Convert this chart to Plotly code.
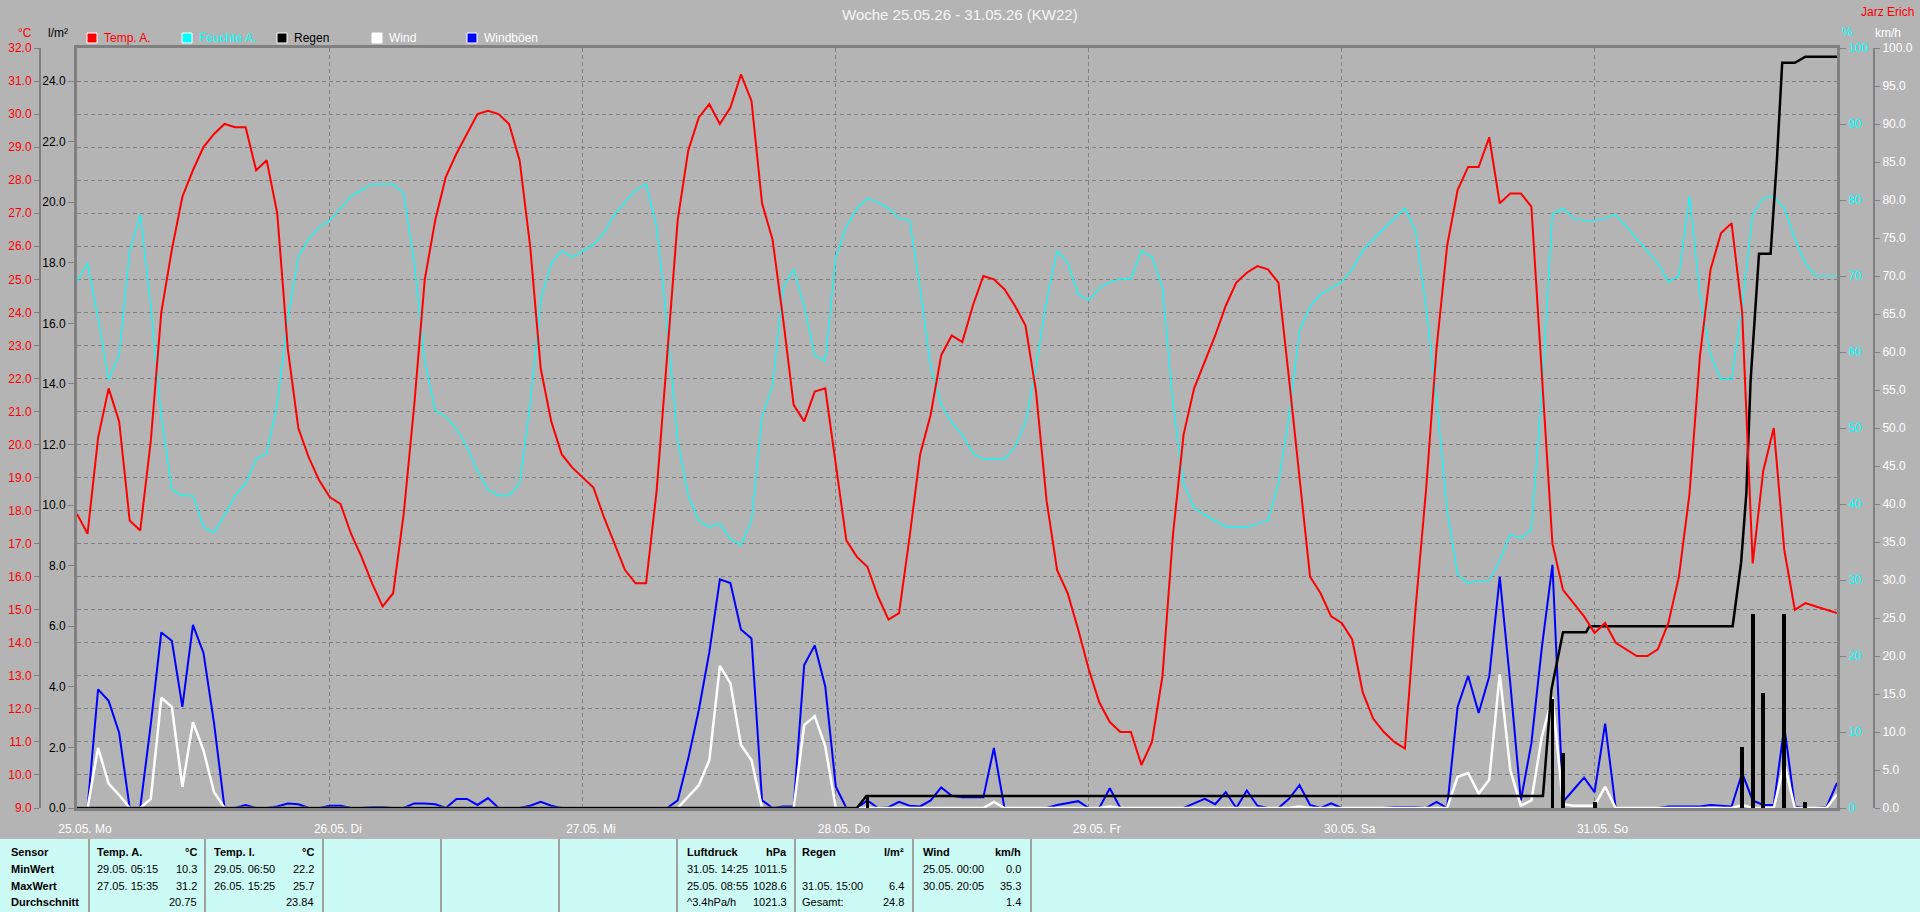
import pandas as pd
import plotly.graph_objects as go

FIG_W, FIG_H = 1920, 912
PLOT_LEFT, PLOT_RIGHT, PLOT_TOP, PLOT_BOTTOM = 77, 1837, 48, 808
FONT = "Liberation Sans, Arial, sans-serif"
GRID = "#808080"
BG = "#B4B4B4"
TABLE_BG = "#CCFAF5"

START = pd.Timestamp("2026-05-25 00:00")

# ---- data (hourly values) ----
day_labels = ["25.05. Mo", "26.05. Di", "27.05. Mi", "28.05. Do", "29.05. Fr", "30.05. Sa", "31.05. So"]

# Temp. A. in degC
temp_25 = [17.9, 17.3, 20.2, 21.7, 20.7, 17.7, 17.4, 20.1, 24.0, 25.9, 27.5, 28.3, 29.0, 29.4, 29.7, 29.6, 29.6, 28.3, 28.6, 27.0, 22.9, 20.5, 19.6, 18.9]
temp_26 = [18.4, 18.2, 17.3, 16.6, 15.8, 15.1, 15.5, 17.9, 21.2, 25.0, 26.8, 28.1, 28.8, 29.4, 30.0, 30.1, 30.0, 29.7, 28.6, 26.0, 22.3, 20.7, 19.7, 19.3]
temp_27 = [19.0, 18.7, 17.8, 17.0, 16.2, 15.8, 15.8, 18.6, 22.7, 26.8, 28.9, 29.9, 30.3, 29.7, 30.2, 31.2, 30.4, 27.3, 26.2, 23.8, 21.2, 20.7, 21.6, 21.7]
temp_28 = [19.4, 17.1, 16.6, 16.3, 15.4, 14.7, 14.9, 17.2, 19.7, 20.9, 22.7, 23.3, 23.1, 24.2, 25.1, 25.0, 24.7, 24.2, 23.6, 21.6, 18.3, 16.2, 15.5, 14.4]
temp_29 = [13.2, 12.2, 11.6, 11.3, 11.3, 10.3, 11.0, 13.0, 17.3, 20.3, 21.7, 22.5, 23.3, 24.2, 24.9, 25.2, 25.4, 25.3, 24.9, 22.0, 19.0, 16.0, 15.5, 14.8]
temp_30 = [14.6, 14.1, 12.5, 11.7, 11.3, 11.0, 10.8, 15.0, 18.6, 22.9, 26.0, 27.7, 28.4, 28.4, 29.3, 27.3, 27.6, 27.6, 27.2, 22.0, 17.0, 15.6, 15.2, 14.8]
temp_31 = [14.3, 14.6, 14.0, 13.8, 13.6, 13.6, 13.8, 14.6, 16.0, 18.5, 22.7, 25.3, 26.4, 26.7, 24.0, 16.4, 19.2, 20.5, 16.8, 15.0, 15.2, 15.1, 15.0, 14.9]

# Feuchte A. in %
hum_25 = [69.2, 71.7, 64.4, 56.4, 59.6, 73.3, 78.1, 66.0, 51.5, 41.9, 41.1, 41.1, 37.0, 36.2, 38.6, 41.1, 42.7, 45.9, 46.7, 53.1, 64.4, 72.5, 74.9, 76.5]
hum_26 = [77.3, 78.9, 80.5, 81.3, 82.1, 82.1, 82.1, 80.8, 71.7, 58.8, 52.3, 51.5, 49.9, 47.5, 44.3, 41.9, 41.1, 41.1, 42.7, 53.1, 66.8, 71.7, 73.3, 72.5]
hum_27 = [73.3, 74.1, 75.7, 78.1, 79.7, 81.3, 82.1, 76.5, 63.6, 48.3, 41.1, 37.8, 37.0, 37.4, 35.4, 34.6, 37.8, 51.5, 55.6, 68.4, 70.9, 66.0, 59.6, 58.8]
hum_28 = [72.5, 76.5, 78.9, 80.2, 79.7, 78.9, 77.6, 77.3, 68.4, 58.0, 53.1, 50.7, 49.1, 46.7, 45.9, 45.9, 45.9, 47.5, 50.7, 58.0, 66.8, 73.3, 71.7, 67.6]
hum_29 = [66.8, 68.4, 69.2, 69.6, 69.6, 73.3, 72.5, 68.4, 53.1, 42.7, 39.5, 38.6, 37.8, 37.0, 37.0, 37.0, 37.4, 37.8, 42.7, 51.5, 62.8, 66.0, 67.6, 68.4]
hum_30 = [69.2, 70.9, 73.3, 74.9, 76.2, 77.6, 78.9, 76.0, 66.0, 54.0, 39.2, 30.7, 29.6, 29.9, 29.9, 32.6, 36.0, 35.5, 36.6, 55.0, 78.1, 78.9, 77.6, 77.3]
hum_31 = [77.3, 77.6, 78.1, 76.5, 74.9, 73.3, 71.7, 69.2, 70.0, 80.5, 67.6, 59.6, 56.4, 56.4, 66.0, 78.1, 80.2, 80.5, 78.9, 74.9, 71.7, 70.0, 70.0, 70.0]

# Wind in km/h
wind_25 = [0, 0, 7.9, 3.2, 1.7, 0, 0, 1.2, 14.5, 13.3, 2.8, 11.3, 7.6, 2.1, 0, 0, 0, 0, 0, 0, 0, 0, 0, 0]
wind_26 = [0, 0, 0, 0, 0, 0, 0, 0, 0, 0, 0, 0, 0, 0, 0, 0, 0, 0, 0, 0, 0, 0, 0, 0]
wind_27 = [0, 0, 0, 0, 0, 0, 0, 0, 0, 0, 1.5, 3.0, 6.3, 18.7, 16.4, 8.3, 6.3, 0, 0, 0, 0, 10.9, 12.1, 8.1]
wind_28 = [0, 0, 0, 0, 0, 0, 0, 0, 0, 0, 0, 0, 0, 0, 0, 0.8, 0, 0, 0, 0, 0, 0, 0, 0]
wind_29 = [0, 0, 0.2, 0, 0, 0, 0, 0, 0, 0, 0, 0, 0, 0, 0, 0, 0, 0, 0, 0, 0.2, 0, 0, 0]
wind_30 = [0, 0, 0, 0, 0, 0, 0, 0, 0, 0, 0, 4.1, 4.6, 1.9, 3.7, 17.6, 5.0, 0.3, 1.0, 9.4, 14.6, 0.5, 0.3, 0.3]
wind_31 = [0.3, 2.8, 0, 0, 0, 0, 0, 0, 0, 0, 0, 0, 0, 0, 0.4, 0, 0, 0, 5.9, 0, 0, 0, 0, 1.8]

# Windboeen in km/h
gust_25 = [0, 0, 15.6, 14.1, 9.9, 0, 0, 11.0, 23.1, 22.0, 13.3, 24.1, 20.4, 11.2, 0, 0, 0.4, 0, 0, 0.2, 0.6, 0.5, 0, 0]
gust_26 = [0.3, 0.3, 0, 0, 0.1, 0.1, 0, 0, 0.6, 0.6, 0.5, 0, 1.2, 1.2, 0.4, 1.3, 0, 0, 0, 0.3, 0.8, 0.3, 0, 0]
gust_27 = [0, 0, 0, 0, 0, 0, 0, 0, 0, 1.0, 6.5, 12.9, 20.5, 30.1, 29.6, 23.5, 22.3, 1.0, 0, 0.2, 0.2, 18.8, 21.4, 16.0]
gust_28 = [2.8, 0, 0, 1.0, 0, 0.1, 0.8, 0.3, 0.2, 1.0, 2.7, 1.6, 1.4, 1.4, 1.4, 7.9, 0, 0, 0, 0, 0, 0.4, 0.7, 0.9]
gust_29 = [0, 0, 2.6, 0, 0, 0, 0, 0, 0, 0, 0.6, 1.2, 0.5, 2.1, 0, 2.3, 0.3, 0, 0, 1.2, 3.0, 0.4, 0, 0.6]
gust_30 = [0, 0, 0, 0, 0, 0.1, 0.1, 0.1, 0, 0.8, 0, 13.3, 17.4, 12.5, 17.3, 30.4, 16.4, 1.0, 8.5, 21.2, 32.0, 0.8, 2.4, 4.0]
gust_31 = [2.1, 11.1, 0, 0, 0, 0, 0, 0.2, 0.2, 0.2, 0.2, 0.4, 0.3, 0.2, 4.6, 1.0, 0.4, 0.4, 10.7, 0.2, 0, 0, 0.1, 3.3]

# Regen: cumulative sum (hours since 25.05. 00:00) and hourly amounts, l/m2
rain_sum_hours = [0, 74.0, 74.9, 139.1, 139.9, 140.4, 141.0, 143.2, 143.5, 157.1, 157.9, 158.4, 158.8, 159.6, 160.7, 161.3, 161.8, 163.0, 164.0, 167.0]
rain_sum = [0, 0, 0.4, 0.4, 3.9, 4.8, 5.8, 5.8, 6.0, 6.0, 8.1, 10.4, 14.1, 18.3, 18.3, 21.4, 24.6, 24.6, 24.8, 24.8]
rain_bar_hours = [75, 140, 141, 144, 158, 159, 160, 162, 164]
rain_bar = [0.4, 3.6, 1.8, 0.2, 2.0, 6.4, 3.8, 6.4, 0.2]

# statistics table
stat_rows = ["Sensor", "MinWert", "MaxWert", "Durchschnitt"]
stat_temp_a = [["Temp. A.", "°C"], ["29.05. 05:15", "10.3"], ["27.05. 15:35", "31.2"], ["", "20.75"]]
stat_temp_i = [["Temp. I.", "°C"], ["29.05. 06:50", "22.2"], ["26.05. 15:25", "25.7"], ["", "23.84"]]
stat_luft = [["Luftdruck", "hPa"], ["31.05. 14:25", "1011.5"], ["25.05. 08:55", "1028.6"], ["^3.4hPa/h", "1021.3"]]
stat_regen = [["Regen", "l/m²"], ["", ""], ["31.05. 15:00", "6.4"], ["Gesamt:", "24.8"]]
stat_wind = [["Wind", "km/h"], ["25.05. 00:00", "0.0"], ["30.05. 20:05", "35.3"], ["", "1.4"]]


def px_x(px):
    return px / FIG_W


def px_y(py):
    return (PLOT_BOTTOM - py) / (PLOT_BOTTOM - PLOT_TOP)


hours = pd.date_range(START, periods=168, freq="h")
temp_a = temp_25 + temp_26 + temp_27 + temp_28 + temp_29 + temp_30 + temp_31
humidity = hum_25 + hum_26 + hum_27 + hum_28 + hum_29 + hum_30 + hum_31
wind = wind_25 + wind_26 + wind_27 + wind_28 + wind_29 + wind_30 + wind_31
gusts = gust_25 + gust_26 + gust_27 + gust_28 + gust_29 + gust_30 + gust_31
rain_sum_t = [START + pd.Timedelta(hours=h) for h in rain_sum_hours]
rain_bar_t = [START + pd.Timedelta(hours=h) for h in rain_bar_hours]
day_ticks = pd.date_range(START, periods=7, freq="D")

fig = go.Figure()
# draw order follows axis order: y (wind) at the bottom, y4 (temp) on top
fig.add_trace(go.Scatter(x=hours, y=gusts, name="Windböen", mode="lines",
                         line=dict(color="#0000FF", width=2), yaxis="y"))
fig.add_trace(go.Scatter(x=hours, y=wind, name="Wind", mode="lines",
                         line=dict(color="#FFFFFF", width=2.5), yaxis="y"))
fig.add_trace(go.Scatter(x=hours, y=humidity, name="Feuchte A.", mode="lines",
                         line=dict(color="#00FFFF", width=1.2), yaxis="y2"))
fig.add_trace(go.Bar(x=rain_bar_t, y=rain_bar, name="Regen/h", width=1_300_000,
                     marker=dict(color="#000000", line=dict(width=0)), yaxis="y3"))
fig.add_trace(go.Scatter(x=rain_sum_t, y=rain_sum, name="Regen", mode="lines",
                         line=dict(color="#000000", width=2.5), yaxis="y3"))
fig.add_trace(go.Scatter(x=hours, y=temp_a, name="Temp. A.", mode="lines",
                         line=dict(color="#FF0000", width=2), yaxis="y4"))

tick_font = dict(family=FONT, size=12)

fig.update_layout(
    width=FIG_W, height=FIG_H,
    margin=dict(l=0, r=0, t=PLOT_TOP, b=FIG_H - PLOT_BOTTOM, autoexpand=False),
    paper_bgcolor=BG, plot_bgcolor=BG,
    showlegend=False,
    bargap=0,
    xaxis=dict(
        domain=[px_x(PLOT_LEFT), px_x(PLOT_RIGHT)],
        range=[START, START + pd.Timedelta(hours=167)],
        tickvals=day_ticks, ticktext=day_labels,
        tickfont=dict(tick_font, color="#FFFFFF"),
        ticks="", ticklabelstandoff=8, ticklabelshift=8,
        showgrid=True, gridcolor=GRID, griddash="4px,3px", gridwidth=1,
        showline=True, linecolor=GRID, linewidth=3, mirror=True,
        layer="below traces",
        zeroline=False, automargin=False,
    ),
    yaxis=dict(  # km/h
        anchor="free", position=px_x(1874), side="right",
        range=[0, 100], dtick=5, tickformat=".1f",
        tickfont=dict(tick_font, color="#FFFFFF"),
        ticks="outside", ticklen=5, tickcolor=GRID,
        showline=True, linecolor=GRID, linewidth=2,
        showgrid=False, zeroline=False, automargin=False,
    ),
    yaxis2=dict(  # %
        anchor="x", overlaying="y", side="right",
        range=[0, 100], dtick=10, tickformat="d",
        tickfont=dict(tick_font, color="#00FFFF"),
        ticks="outside", ticklen=6, tickcolor=GRID,
        showline=True, linecolor=GRID, linewidth=3,
        showgrid=False, zeroline=False, automargin=False,
    ),
    yaxis3=dict(  # l/m2
        anchor="x", overlaying="y", side="left",
        range=[0, 760 / (727 / 24)], dtick=2, tickformat=".1f",
        tickfont=dict(tick_font, color="#000000"),
        ticks="outside", ticklen=6, tickcolor=GRID,
        showline=True, linecolor=GRID, linewidth=3,
        showgrid=False, zeroline=False, automargin=False,
    ),
    yaxis4=dict(  # degC
        anchor="free", position=px_x(40), overlaying="y", side="left",
        range=[9, 32], dtick=1, tick0=9, tickformat=".1f",
        tickfont=dict(tick_font, color="#FF0000"),
        ticks="outside", ticklen=5, tickcolor=GRID,
        showline=True, linecolor=GRID, linewidth=2,
        showgrid=True, gridcolor=GRID, griddash="4px,3px", gridwidth=1,
        zeroline=False, automargin=False,
    ),
)

annotations = []
shapes = []


def text(px, py, s, color, size=12, anchor="left", bold=False):
    annotations.append(dict(
        x=px_x(px), y=px_y(py), xref="paper", yref="paper",
        text="<b>" + s + "</b>" if bold else s, showarrow=False,
        xanchor=anchor, yanchor="middle",
        font=dict(family=FONT, size=size, color=color),
    ))


# title and owner
text(FIG_W / 2, 15, "Woche 25.05.26 - 31.05.26 (KW22)", "#F4F4F4", size=15, anchor="center")
text(1916, 12, "Jarz Erich", "#FF0000", anchor="right")

# axis unit labels
text(25, 33, "°C", "#FF0000", anchor="center")
text(58, 33, "l/m²", "#000000", anchor="center")
text(1847, 32, "%", "#00FFFF", anchor="center")
text(1888, 33, "km/h", "#FFFFFF", anchor="center")

# legend row
legend_names = ["Temp. A.", "Feuchte A.", "Regen", "Wind", "Windböen"]
legend_fill = ["#FF0000", "#00FFFF", "#000000", "#FFFFFF", "#0000FF"]
legend_text = ["#FF0000", "#00FFFF", "#000000", "#FFFFFF", "#FFFFFF"]
for i, name in enumerate(legend_names):
    x0 = 87 + 95 * i
    shapes.append(dict(type="rect", xref="paper", yref="paper",
                       x0=px_x(x0), x1=px_x(x0 + 10), y0=px_y(43), y1=px_y(33),
                       fillcolor=legend_fill[i], line=dict(color="#FFFFFF", width=1)))
    text(x0 + 15, 38, name, legend_text[i])

# statistics table
shapes.append(dict(type="rect", xref="paper", yref="paper", layer="below",
                   x0=0, x1=1, y0=px_y(FIG_H), y1=px_y(839),
                   fillcolor=TABLE_BG, line=dict(width=0)))
for sx in [89, 205, 323, 441, 559, 677, 795, 913, 1031]:
    shapes.append(dict(type="line", xref="paper", yref="paper",
                       x0=px_x(sx), x1=px_x(sx), y0=px_y(839), y1=px_y(FIG_H),
                       line=dict(color="#A0A0A0", width=2)))

row_y = [852, 869, 886, 902]
for r, label in enumerate(stat_rows):
    text(9, row_y[r], label, "#000000", size=11, bold=True)

table_cols = [(stat_temp_a, 95, 199), (stat_temp_i, 212, 316), (stat_luft, 685, 789),
              (stat_regen, 800, 906), (stat_wind, 921, 1023)]
for stats, left, right in table_cols:
    for r, (a, b) in enumerate(stats):
        if a:
            text(left, row_y[r], a, "#000000", size=11, bold=(r == 0))
        if b:
            text(right, row_y[r], b, "#000000", size=11, anchor="right", bold=(r == 0))

fig.update_layout(annotations=annotations, shapes=shapes)

fig.write_html("out.html", config={"displayModeBar": False},
               post_script="document.body.style.margin='0px';")
